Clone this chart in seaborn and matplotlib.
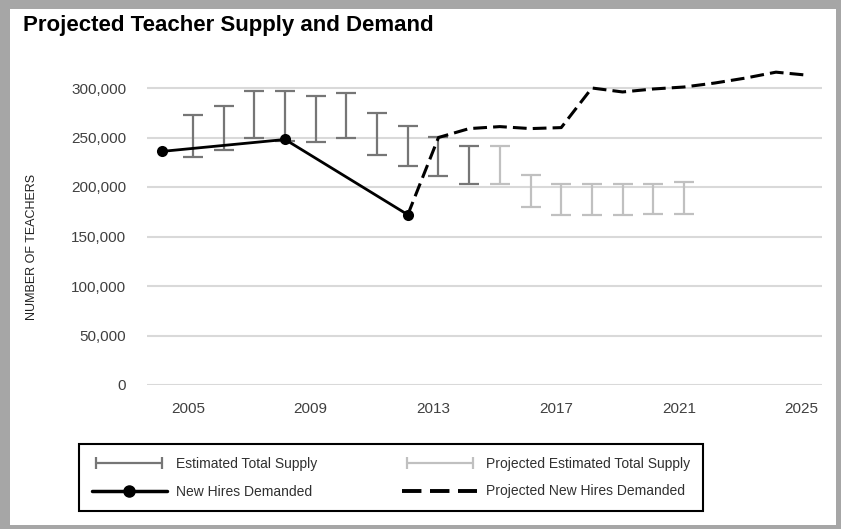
import seaborn as sns
import matplotlib.pyplot as plt
import matplotlib.transforms as mtransforms
from matplotlib.lines import Line2D
from matplotlib.patches import Rectangle
from matplotlib.legend_handler import HandlerLine2D

# data
est_years = [2005, 2006, 2007, 2008, 2009, 2010, 2011, 2012, 2013, 2014]
est_low = [230000, 237000, 250000, 246000, 245000, 249000, 232000, 221000, 211000, 203000]
est_high = [273000, 282000, 297000, 297000, 292000, 295000, 275000, 262000, 251000, 241000]

proj_years = [2015, 2016, 2017, 2018, 2019, 2020, 2021]
proj_low = [203000, 180000, 172000, 172000, 172000, 173000, 173000]
proj_high = [241000, 212000, 203000, 203000, 203000, 203000, 205000]

hire_years = [2004, 2008, 2012]
hire_vals = [236000, 248000, 172000]

proj_hire_years = [2012, 2013, 2014, 2015, 2016, 2017, 2018, 2019, 2020, 2021, 2022, 2023, 2024, 2025]
proj_hire_vals = [172000, 250000, 259000, 261000, 259000, 260000, 300000, 296000, 299000,
                  301000, 305000, 310000, 316000, 313000]

x_ticks = [2005, 2009, 2013, 2017, 2021, 2025]
y_ticks = [0, 50000, 100000, 150000, 200000, 250000, 300000]

sns.set_theme(style="white")
plt.rcParams['font.family'] = ['Liberation Sans', 'DejaVu Sans']

dark = '#767676'
light = '#c0c0c0'

fig = plt.figure(figsize=(8.41, 5.29), dpi=100, facecolor='#a6a6a6')
# white panel inside the grey frame
fig.patches.append(Rectangle((10 / 841, 1 - 525 / 529), 826 / 841, 516 / 529,
                             transform=fig.transFigure, facecolor='white',
                             edgecolor='none', zorder=-10))

ax = fig.add_axes([147 / 841, 1 - 385 / 529, 675 / 841, 326.7 / 529])
ax.set_facecolor('none')
ax.set_zorder(2)

# estimated supply ranges
est_mid = [(a + b) / 2 for a, b in zip(est_low, est_high)]
est_err = [(b - a) / 2 for a, b in zip(est_low, est_high)]
ax.errorbar(est_years, est_mid, yerr=est_err, fmt='none', ecolor=dark,
            elinewidth=1.6, capsize=7, capthick=1.6, zorder=3)

proj_mid = [(a + b) / 2 for a, b in zip(proj_low, proj_high)]
proj_err = [(b - a) / 2 for a, b in zip(proj_low, proj_high)]
ax.errorbar(proj_years, proj_mid, yerr=proj_err, fmt='none', ecolor=light,
            elinewidth=1.6, capsize=7, capthick=1.6, zorder=3)

# demand lines
sns.lineplot(x=hire_years, y=hire_vals, ax=ax, color='black', linewidth=2,
             marker='o', markersize=8, markeredgewidth=0, zorder=4)
sns.lineplot(x=proj_hire_years, y=proj_hire_vals, ax=ax, color='black',
             linewidth=2.2, linestyle=(0, (4.5, 2)), zorder=4)

ax.set_xlim(2003.5, 2025.5)
ax.set_ylim(0, 330000)
ax.set_xticks(x_ticks)
ax.set_yticks(y_ticks)
ax.set_yticklabels([f'{v:,}' for v in y_ticks])
ax.yaxis.grid(True, color='#d9d9d9', linewidth=1.5)
ax.set_axisbelow(True)
for s in ax.spines.values():
    s.set_visible(False)
ax.tick_params(axis='x', length=0, pad=12, labelsize=11, labelcolor='#404040')
ax.tick_params(axis='y', length=0, pad=15, labelsize=11, labelcolor='#404040')
offset = mtransforms.ScaledTranslation(-5 / 100, 0, fig.dpi_scale_trans)
for lab in ax.get_xticklabels():
    lab.set_transform(lab.get_transform() + offset)
ax.set_xlabel('')
ax.set_ylabel('')

fig.text(32 / 841, 1 - 247 / 529, 'NUMBER OF TEACHERS', rotation=90,
         ha='center', va='center', fontsize=9, color='#202020')
fig.text(23 / 841, 1 - 26 / 529, 'Projected Teacher Supply and Demand',
         ha='left', va='center', fontsize=16, fontweight='bold', color='black')

# legend
h_est = Line2D([], [], color=dark, linewidth=1.6, marker='|', markersize=8,
               markeredgewidth=1.6)
h_hire = Line2D([], [], color='black', linewidth=2.5, marker='o', markersize=8)
h_proj = Line2D([], [], color=light, linewidth=1.6, marker='|', markersize=8,
                markeredgewidth=1.6)
h_phire = Line2D([], [], color='black', linewidth=2.8, linestyle=(0, (5, 2.2)))
leg = fig.legend(
    [h_est, h_hire, h_proj, h_phire],
    ['Estimated Total Supply', 'New Hires Demanded',
     'Projected Estimated Total Supply', 'Projected New Hires Demanded'],
    handler_map={h_est: HandlerLine2D(numpoints=2), h_proj: HandlerLine2D(numpoints=2),
                 h_hire: HandlerLine2D(numpoints=1)},
    ncol=2, loc='lower left', mode='expand',
    bbox_to_anchor=(79 / 841, 1 - 511 / 529, 624 / 841, 70 / 529),
    borderaxespad=0, fontsize=10, handlelength=5.4, handletextpad=0.65,
    labelspacing=1.0, borderpad=0.9, fancybox=False, framealpha=1,
    edgecolor='black')
leg.get_frame().set_linewidth(1.5)
for t in leg.get_texts():
    t.set_color('#303030')

fig.savefig('out.png', dpi=100, facecolor=fig.get_facecolor())
